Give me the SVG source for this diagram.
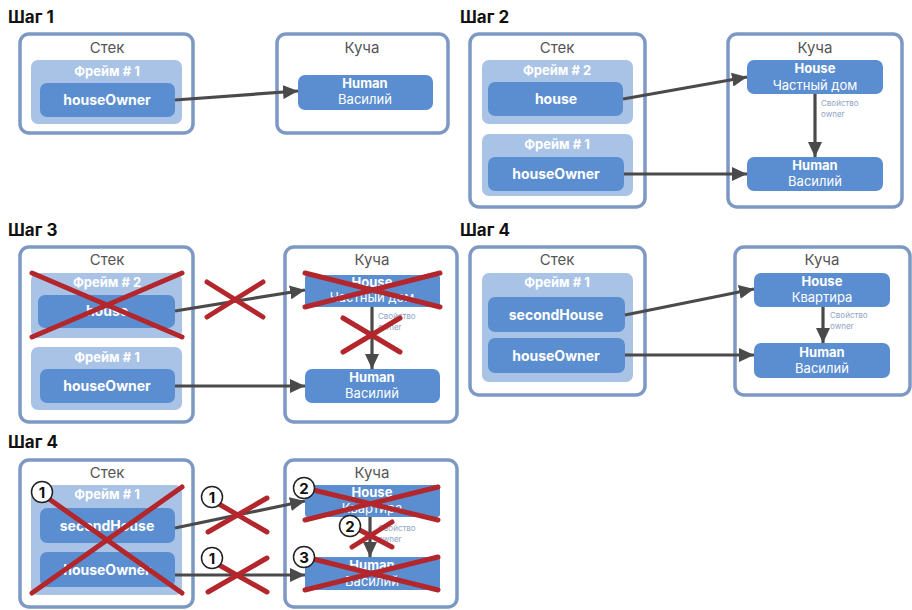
<svg xmlns="http://www.w3.org/2000/svg" width="912" height="610" viewBox="0 0 912 610">
<defs>
<marker id="ah" markerUnits="userSpaceOnUse" markerWidth="16" markerHeight="14" refX="15" refY="7" orient="auto">
<path d="M0,0 L15,7 L0,14 Z" fill="#4a4a4a"/>
</marker>
<style>
text{font-family:Inter,"Liberation Sans","Noto Sans",sans-serif}
.step{font-size:17px;font-weight:700;fill:#111}
.outer{fill:#fff;stroke:#7d98c3;stroke-width:3.5}
.frame{fill:#a9c3e6}
.cell{fill:#5b8ed0}
.cap{font-size:15px;fill:#555;text-anchor:middle}
.ft{font-size:13px;font-weight:700;fill:#fff;text-anchor:middle}
.ct{font-size:14px;font-weight:700;fill:#fff;text-anchor:middle}
.ht{font-size:13px;font-weight:700;fill:#fff;text-anchor:middle}
.hs{font-size:13px;fill:#fff;text-anchor:middle}
.prop{font-size:8px;fill:#8fa3c6}
.conn{stroke:#4a4a4a;stroke-width:3.2;fill:none;marker-end:url(#ah)}
.cross{stroke:#b3272c;stroke-width:5;stroke-linecap:round;fill:none}
.num circle{fill:#fff;stroke:#222;stroke-width:1.5}
.num text{font-size:15px;font-weight:700;fill:#111;text-anchor:middle}
</style>
</defs>

<!-- Step 1 -->
<text class="step" x="8" y="23">Шаг 1</text>
<g id="s1-stack">
<rect class="outer" x="20" y="34" width="173" height="99" rx="9"/>
<text class="cap" x="107" y="53">Стек</text>
</g>
<g id="s1-frame1">
<rect class="frame" x="31" y="60" width="151" height="64" rx="7"/>
<text class="ft" x="107" y="76">Фрейм # 1</text>
</g>
<g id="s1-houseOwner">
<rect class="cell" x="40" y="83" width="135" height="34" rx="7"/>
<text class="ct" x="107" y="105">houseOwner</text>
</g>
<g id="s1-heap">
<rect class="outer" x="277" y="34" width="171" height="99" rx="9"/>
<text class="cap" x="362" y="53">Куча</text>
</g>
<g id="s1-human">
<rect class="cell" x="298" y="75" width="135" height="35" rx="7"/>
<text class="ht" x="365" y="88">Human</text>
<text class="hs" x="365" y="104">Василий</text>
</g>

<!-- Step 2 -->
<text class="step" x="460" y="23">Шаг 2</text>
<g id="s2-stack">
<rect class="outer" x="470" y="34" width="175" height="173" rx="9"/>
<text class="cap" x="557" y="53">Стек</text>
</g>
<g id="s2-frame2">
<rect class="frame" x="482" y="60" width="151" height="64" rx="7"/>
<text class="ft" x="557" y="75">Фрейм # 2</text>
</g>
<g id="s2-house">
<rect class="cell" x="488" y="82" width="135" height="34" rx="7"/>
<text class="ct" x="556" y="104">house</text>
</g>
<g id="s2-frame1">
<rect class="frame" x="482" y="134" width="151" height="62" rx="7"/>
<text class="ft" x="557" y="149">Фрейм # 1</text>
</g>
<g id="s2-houseOwner">
<rect class="cell" x="488" y="157" width="136" height="34" rx="7"/>
<text class="ct" x="556" y="179">houseOwner</text>
</g>
<g id="s2-heap">
<rect class="outer" x="728" y="34" width="174" height="173" rx="9"/>
<text class="cap" x="815" y="53">Куча</text>
</g>
<g id="s2-houseObj">
<rect class="cell" x="747" y="60" width="136" height="34" rx="7"/>
<text class="ht" x="815" y="73">House</text>
<text class="hs" x="815" y="90">Частный дом</text>
</g>
<g id="s2-human">
<rect class="cell" x="747" y="157" width="136" height="34" rx="7"/>
<text class="ht" x="815" y="170">Human</text>
<text class="hs" x="815" y="186">Василий</text>
</g>
<text class="prop" x="821" y="106">Свойство</text>
<text class="prop" x="821" y="117">owner</text>

<!-- Step 3 -->
<text class="step" x="8" y="236">Шаг 3</text>
<g id="s3-stack">
<rect class="outer" x="20" y="247" width="173" height="175" rx="9"/>
<text class="cap" x="107" y="265">Стек</text>
</g>
<g id="s3-frame2">
<rect class="frame" x="31" y="273" width="151" height="65" rx="7"/>
<text class="ft" x="107" y="287">Фрейм # 2</text>
</g>
<g id="s3-house">
<rect class="cell" x="38" y="295" width="137" height="33" rx="7"/>
<text class="ct" x="107" y="316">house</text>
</g>
<g id="s3-frame1">
<rect class="frame" x="31" y="347" width="151" height="63" rx="7"/>
<text class="ft" x="107" y="362">Фрейм # 1</text>
</g>
<g id="s3-houseOwner">
<rect class="cell" x="40" y="369" width="135" height="34" rx="7"/>
<text class="ct" x="107" y="391">houseOwner</text>
</g>
<g id="s3-heap">
<rect class="outer" x="285" y="247" width="172" height="175" rx="9"/>
<text class="cap" x="372" y="265">Куча</text>
</g>
<g id="s3-houseObj">
<rect class="cell" x="305" y="275" width="135" height="32" rx="3"/>
<text class="ht" x="372" y="287">House</text>
<text class="hs" x="372" y="302">Частный дом</text>
</g>
<g id="s3-human">
<rect class="cell" x="305" y="369" width="135" height="34" rx="7"/>
<text class="ht" x="372" y="382">Human</text>
<text class="hs" x="372" y="398">Василий</text>
</g>
<text class="prop" x="378" y="319">Свойство</text>
<text class="prop" x="378" y="330">owner</text>

<!-- Step 4 (right) -->
<text class="step" x="460" y="236">Шаг 4</text>
<g id="s4-stack">
<rect class="outer" x="470" y="247" width="175" height="148" rx="9"/>
<text class="cap" x="557" y="265">Стек</text>
</g>
<g id="s4-frame1">
<rect class="frame" x="482" y="273" width="151" height="109" rx="7"/>
<text class="ft" x="557" y="287">Фрейм # 1</text>
</g>
<g id="s4-secondHouse">
<rect class="cell" x="488" y="297" width="137" height="35" rx="7"/>
<text class="ct" x="556" y="320">secondHouse</text>
</g>
<g id="s4-houseOwner">
<rect class="cell" x="488" y="338" width="137" height="35" rx="7"/>
<text class="ct" x="556" y="361">houseOwner</text>
</g>
<g id="s4-heap">
<rect class="outer" x="735" y="247" width="175" height="148" rx="9"/>
<text class="cap" x="822" y="265">Куча</text>
</g>
<g id="s4-houseObj">
<rect class="cell" x="754" y="273" width="136" height="34" rx="7"/>
<text class="ht" x="822" y="286">House</text>
<text class="hs" x="822" y="302">Квартира</text>
</g>
<g id="s4-human">
<rect class="cell" x="754" y="343" width="136" height="35" rx="7"/>
<text class="ht" x="822" y="357">Human</text>
<text class="hs" x="822" y="373">Василий</text>
</g>
<text class="prop" x="830" y="318">Свойство</text>
<text class="prop" x="830" y="329">owner</text>

<!-- Step 4 (bottom) -->
<text class="step" x="8" y="448">Шаг 4</text>
<g id="s5-stack">
<rect class="outer" x="20" y="460" width="173" height="147" rx="9"/>
<text class="cap" x="107" y="478">Стек</text>
</g>
<g id="s5-frame1">
<rect class="frame" x="31" y="485" width="151" height="110" rx="7"/>
<text class="ft" x="107" y="499">Фрейм # 1</text>
</g>
<g id="s5-secondHouse">
<rect class="cell" x="40" y="508" width="135" height="35" rx="7"/>
<text class="ct" x="107" y="531">secondHouse</text>
</g>
<g id="s5-houseOwner">
<rect class="cell" x="40" y="552" width="135" height="35" rx="7"/>
<text class="ct" x="107" y="575">houseOwner</text>
</g>
<g id="s5-heap">
<rect class="outer" x="285" y="460" width="172" height="147" rx="9"/>
<text class="cap" x="372" y="478">Куча</text>
</g>
<g id="s5-houseObj">
<rect class="cell" x="305" y="485" width="135" height="32" rx="3"/>
<text class="ht" x="372" y="497">House</text>
<text class="hs" x="372" y="513">Квартира</text>
</g>
<g id="s5-human">
<rect class="cell" x="305" y="557" width="135" height="33" rx="3"/>
<text class="ht" x="372" y="570">Human</text>
<text class="hs" x="372" y="586">Василий</text>
</g>
<text class="prop" x="378" y="531">Свойство</text>
<text class="prop" x="378" y="542">owner</text>

<!-- Connectors -->
<g id="connectors">
<line class="conn" x1="175" y1="100" x2="298" y2="91"/>
<line class="conn" x1="623" y1="99" x2="747" y2="77"/>
<line class="conn" x1="624" y1="174" x2="747" y2="174"/>
<line class="conn" x1="815" y1="94" x2="815" y2="157"/>
<line class="conn" x1="175" y1="311" x2="305" y2="290"/>
<line class="conn" x1="175" y1="386" x2="305" y2="386"/>
<line class="conn" x1="372" y1="307" x2="372" y2="369"/>
<line class="conn" x1="625" y1="315" x2="754" y2="289"/>
<line class="conn" x1="625" y1="355" x2="754" y2="355"/>
<line class="conn" x1="823" y1="307" x2="823" y2="343"/>
<line class="conn" x1="175" y1="528" x2="305" y2="501"/>
<line class="conn" x1="175" y1="575" x2="305" y2="575"/>
<line class="conn" x1="370" y1="517" x2="370" y2="557"/>
</g>

<!-- Crosses -->
<g id="crosses">
<path class="cross" d="M32,273 L182,337 M32,337 L182,273"/>
<path class="cross" d="M207,282 L263,317 M207,317 L263,282"/>
<path class="cross" d="M305,273 L440,307 M305,307 L440,273"/>
<path class="cross" d="M343,318 L400,352 M343,352 L400,318"/>
<path class="cross" d="M42,494 L182,593 M32,593 L182,487"/>
<path class="cross" d="M212,500 L267,532 M208,532 L267,498"/>
<path class="cross" d="M212,561 L267,592 M208,592 L267,558"/>
<path class="cross" d="M305,488 L438,520 M305,520 L438,487"/>
<path class="cross" d="M352,547 L392,522 M352,526 L392,547"/>
<path class="cross" d="M305,557 L438,590 M305,590 L438,557"/>
</g>

<!-- Numbered markers -->
<g id="markers">
<g class="num"><circle cx="42" cy="492" r="10.5"/><text x="42" y="497.5">1</text></g>
<g class="num"><circle cx="212" cy="497" r="10.5"/><text x="212" y="502.5">1</text></g>
<g class="num"><circle cx="212" cy="558" r="10.5"/><text x="212" y="563.5">1</text></g>
<g class="num"><circle cx="304" cy="488" r="10.5"/><text x="304" y="493.5">2</text></g>
<g class="num"><circle cx="350" cy="526" r="10.5"/><text x="350" y="531.5">2</text></g>
<g class="num"><circle cx="304" cy="557" r="10.5"/><text x="304" y="562.5">3</text></g>
</g>
</svg>
